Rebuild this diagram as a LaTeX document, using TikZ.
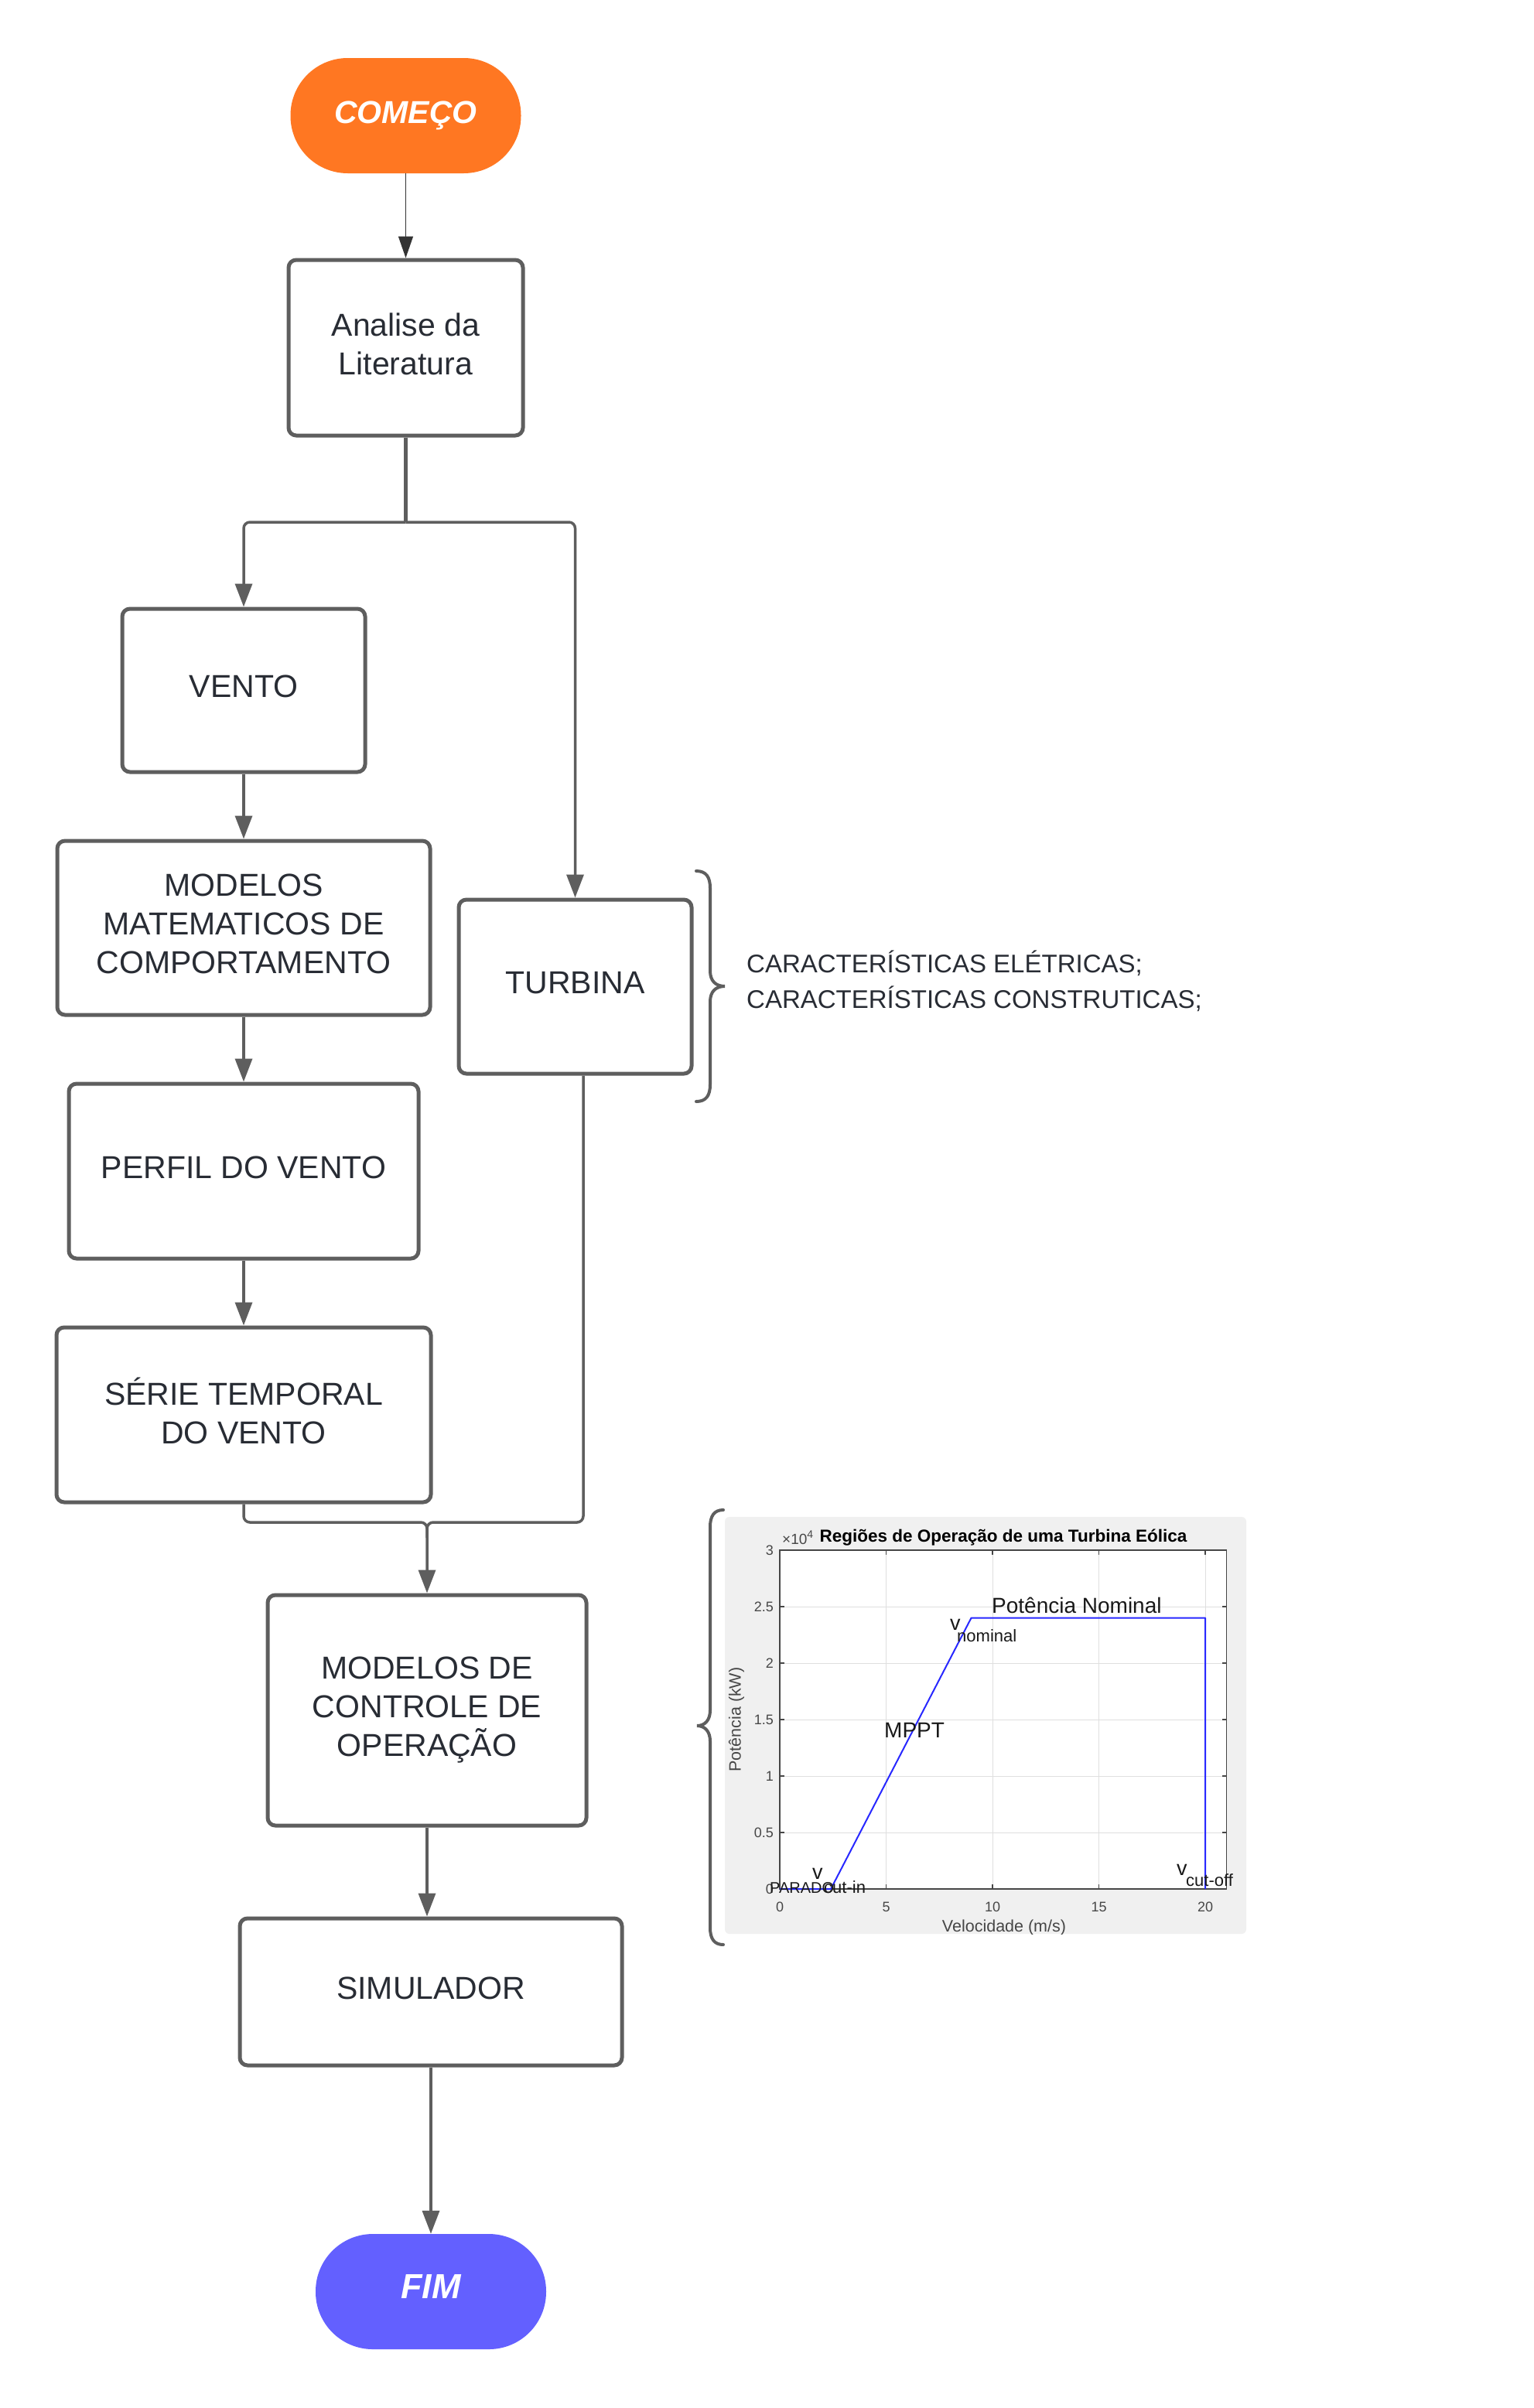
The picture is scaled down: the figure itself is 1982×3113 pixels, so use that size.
\documentclass[tikz,border=0pt]{standalone}
\usepackage{fontspec}
\setmainfont{Liberation Sans}
\usetikzlibrary{arrows.meta}
\definecolor{linegray}{RGB}{94,94,94}
\definecolor{txt}{RGB}{40,44,52}
\definecolor{startor}{RGB}{255,119,34}
\definecolor{endbl}{RGB}{99,96,255}
\definecolor{panelgray}{RGB}{240,240,240}
\definecolor{gridgray}{RGB}{223,223,223}
\definecolor{axgray}{RGB}{70,70,70}
\definecolor{plotblue}{RGB}{40,40,255}
\begin{document}
\begin{tikzpicture}[x=1pt,y=-1pt,
  box/.style={draw=linegray, line width=5pt, rounded corners=10pt, fill=white, text=txt,
    align=center, inner sep=0pt, text depth=10pt, font=\fontsize{41}{50}\selectfont},
  term/.style={inner sep=0pt, text=white, minimum width=298pt, minimum height=149pt, rounded corners=74pt},
  conn/.style={draw=linegray, line width=3.5pt, rounded corners=8pt, -{Triangle[length=30pt,width=22pt]}},
  plainline/.style={draw=linegray, line width=3.5pt, rounded corners=8pt},
  thinarrow/.style={draw=black!80, line width=1.5pt, -{Triangle[length=28pt,width=19pt]}},
  bracestyle/.style={draw=linegray, line width=4pt, line cap=round},
  note/.style={text=txt, inner sep=0pt, anchor=base west, font=\fontsize{33}{40}\selectfont},
  tick/.style={text=axgray, inner sep=0pt, font=\fontsize{18}{21}\selectfont},
  ann/.style={text=black!90, inner sep=0pt, anchor=base west},
]
\useasboundingbox (0,0) rectangle (1982,3113);
\fill[white] (0,0) rectangle (1982,3113);

% ---------- flowchart nodes ----------
\node[term, fill=startor, font=\fontsize{41}{48}\selectfont\bfseries\itshape] (start) at (524.5,149.5) {COMEÇO};
\node[box, minimum width=303pt, minimum height=227pt] (lit) at (524.5,449.5) {Analise da\\Literatura};
\node[box, minimum width=314pt, minimum height=211pt] (vento) at (315,892.5) {VENTO};
\node[box, minimum width=482pt, minimum height=225pt] (modmat) at (315,1199.5) {MODELOS\\MATEMATICOS DE\\COMPORTAMENTO};
\node[box, minimum width=452pt, minimum height=226pt] (perfil) at (315,1514) {PERFIL DO VENTO};
\node[box, minimum width=484pt, minimum height=226pt] (serie) at (315,1829) {SÉRIE TEMPORAL\\DO VENTO};
\node[box, minimum width=301pt, minimum height=225pt] (turbina) at (743.5,1275.5) {TURBINA};
\node[box, minimum width=412pt, minimum height=298pt] (modctl) at (552,2211) {MODELOS DE\\CONTROLE DE\\OPERAÇÃO};
\node[box, minimum width=494pt, minimum height=190pt] (simul) at (557,2575) {SIMULADOR};
\node[term, fill=endbl, text height=32pt, text depth=14pt, font=\fontsize{45}{52}\selectfont\bfseries\itshape] (fim) at (557,2962.5) {FIM};

% ---------- connectors ----------
\coordinate (split) at (524.5,675);
\coordinate (merge) at (552,1968);
\draw[thinarrow] (start.south) -- (lit.north);
\draw[draw=linegray, line width=5.5pt] (lit.south) -- (split);
\draw[conn] (split) -| (vento.north);
\draw[conn] (split) -| (turbina.north);
\draw[conn] (vento.south) -- (modmat.north);
\draw[conn] (modmat.south) -- (perfil.north);
\draw[conn] (perfil.south) -- (serie.north);
\draw[conn] (serie.south) |- (merge) -- (modctl.north);
\draw[plainline] ([xshift=10.5pt]turbina.south) |- (merge) -- ([yshift=-20pt]merge);
\draw[conn] (modctl.south) -- (modctl.south |- simul.north);
\draw[conn] (simul.south) -- (fim.north);

% ---------- brace and notes for TURBINA ----------
\draw[bracestyle] (900,1126) .. controls (913,1126) and (918,1134) .. (918,1148) -- (918,1255)
  .. controls (918,1268) and (925,1275) .. (937,1275)
  .. controls (925,1275) and (918,1282) .. (918,1295) -- (918,1402)
  .. controls (918,1416) and (913,1424) .. (900,1424);
\node[note] (car1) at (965,1257) {CARACTERÍSTICAS ELÉTRICAS;};
\node[note] (car2) at (965,1303) {CARACTERÍSTICAS CONSTRUTICAS;};

% ---------- brace for the chart ----------
\draw[bracestyle] (935,1952) .. controls (923,1952) and (918,1960) .. (918,1974) -- (918,2211)
  .. controls (918,2224) and (911,2231) .. (901,2231)
  .. controls (911,2231) and (918,2238) .. (918,2251) -- (918,2492)
  .. controls (918,2506) and (923,2514) .. (935,2514);

% ---------- chart ----------
\fill[panelgray, rounded corners=6pt] (937,1961) rectangle (1611,2500);
\begin{scope}[shift={(1008,2442)}, x=27.5pt, y=146pt]
  \fill[white] (0,0) rectangle (21,3);
  \foreach \v in {5,10,15,20} \draw[gridgray, line width=1pt] (\v,0) -- (\v,3);
  \foreach \p in {0.5,1,1.5,2,2.5} \draw[gridgray, line width=1pt] (0,\p) -- (21,\p);
  \foreach \v in {0,5,10,15,20} {
    \draw[axgray, line width=1.2pt] (\v,0) -- ++(0pt,6pt);
    \draw[axgray, line width=1.2pt] (\v,3) -- ++(0pt,-6pt);
  }
  \foreach \p in {0,0.5,1,1.5,2,2.5,3} {
    \draw[axgray, line width=1.2pt] (0,\p) -- ++(6pt,0pt);
    \draw[axgray, line width=1.2pt] (21,\p) -- ++(-6pt,0pt);
  }
  \draw[axgray, line width=1.5pt] (0,0) rectangle (21,3);
  \draw[plotblue, line width=2pt, line join=round] (0,0) -- (2.4,0) -- (9,2.4) -- (20,2.4) -- (20,0);
\end{scope}
% tick labels
\foreach \p/\lab [count=\i] in {0/0,0.5/0.5,1/1,1.5/1.5,2/2,2.5/2.5,3/3}
  \node[tick, anchor=east] (yt\i) at (1000,{2442-146*\p}) {\lab};
\foreach \v [count=\i] in {0,5,10,15,20}
  \node[tick, anchor=base] (xt\i) at ({1008+27.5*\v},2471) {\v};
\begin{scope}
  \clip (937,1961) rectangle (1611,2500);
  \node[text=axgray, inner sep=0pt, anchor=base, font=\fontsize{21.5}{24}\selectfont] (xlab) at (1298,2497) {Velocidade (m/s)};
\end{scope}
\node[text=axgray, inner sep=0pt, rotate=90, font=\fontsize{21.5}{24}\selectfont] (ylab) at (952,2223) {Potência (kW)};
\node[text=black, inner sep=0pt, anchor=base, font=\fontsize{22.5}{26}\selectfont\bfseries] (title) at (1297,1993) {Regiões de Operação de uma Turbina Eólica};
\node[text=axgray, inner sep=0pt, anchor=base west, font=\fontsize{19}{21}\selectfont] (expo) at (1011,1996) {×10\raisebox{8pt}{\fontsize{14}{16}\selectfont 4}};
% annotations
\node[ann, font=\fontsize{28}{32}\selectfont] (pnom) at (1282,2085) {Potência Nominal};
\node[ann, font=\fontsize{27}{30}\selectfont] (vnom) at (1228,2107) {v};
\node[ann, font=\fontsize{22}{26}\selectfont] (snom) at (1237,2122) {nominal};
\node[ann, font=\fontsize{28}{32}\selectfont] (mppt) at (1143,2246) {MPPT};
\node[ann, font=\fontsize{20}{24}\selectfont] (parado) at (995,2447) {PARADO};
\node[ann, font=\fontsize{27}{30}\selectfont] (vin) at (1050,2429) {v};
\node[ann, font=\fontsize{22}{26}\selectfont] (sin) at (1065,2447) {cut-in};
\node[ann, font=\fontsize{27}{30}\selectfont] (voff) at (1521,2424) {v};
\node[ann, font=\fontsize{22}{26}\selectfont] (soff) at (1533,2438) {cut-off};
\end{tikzpicture}
\end{document}
